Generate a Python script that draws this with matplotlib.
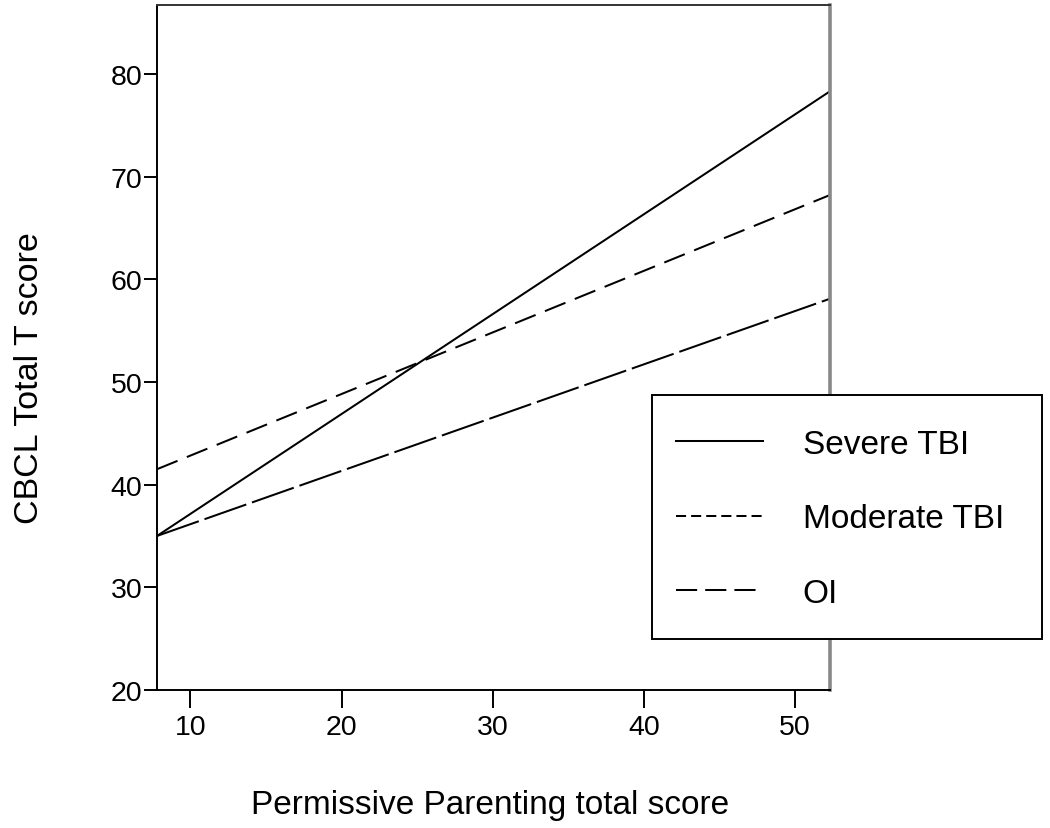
import matplotlib
matplotlib.use("Agg")
import matplotlib.pyplot as plt
from matplotlib.lines import Line2D
from matplotlib.patches import Rectangle

plt.rcParams['font.family'] = ['Liberation Sans', 'DejaVu Sans']

# regression lines: value at the left and right end of the x range
x_ends = [7.8, 52.3]
severe = [35.0, 78.3]
moderate = [41.5, 68.2]
oi = [35.0, 58.1]

groups = ["Severe TBI", "Moderate TBI", "OI"]
x_ticks = [10, 20, 30, 40, 50]
y_ticks = [20, 30, 40, 50, 60, 70, 80]

W, H = 1050, 829
fig = plt.figure(figsize=(W / 100, H / 100), dpi=100)
ax = fig.add_axes([157 / W, 1 - 691 / H, (830 - 157) / W, (691 - 5.5) / H])

lw = 1.45
ax.plot(x_ends, severe, color='black', lw=lw, solid_capstyle='butt')
ax.plot(x_ends, moderate, color='black', lw=lw, dashes=(11, 5))
ax.plot(x_ends, oi, color='black', lw=lw, dashes=(22, 3))

ax.set_xlim(x_ends[0], x_ends[1])
ax.set_ylim(20, 86.75)
ax.set_xticks(x_ticks)
ax.set_yticks(y_ticks)
ax.tick_params(axis='both', width=1.4, labelsize=20.5, color='black')
ax.tick_params(axis='y', length=9.5, pad=1)
ax.tick_params(axis='x', length=13, pad=4)

for side in ['left', 'bottom', 'top']:
    ax.spines[side].set_linewidth(1.4)
    ax.spines[side].set_color('black')
ax.spines['top'].set_color('#333333')
ax.spines['right'].set_color('#888888')
ax.spines['right'].set_linewidth(2.6)

fig.text(30 / W, 1 - 378 / H, "CBCL Total T score", rotation=90,
         ha='center', va='center', fontsize=24.5)
fig.text(490 / W, 1 - 806 / H, "Permissive Parenting total score",
         ha='center', va='center', fontsize=24)

# legend box drawn separately so its size can follow the reference
fig.patches.append(Rectangle((652 / W, 1 - 640 / H), (1042 - 652) / W,
                             (640 - 396) / H, transform=fig.transFigure,
                             facecolor='white', edgecolor='black', lw=1.4,
                             zorder=5))

# legend handles use the shorter dash patterns shown in the key
handles = [
    Line2D([], [], color='black', lw=lw),
    Line2D([], [], color='black', lw=lw, dashes=(5, 2.5)),
    Line2D([], [], color='black', lw=lw, dashes=(10.5, 4)),
]
leg = fig.legend(handles, groups, loc='center',
                 bbox_to_anchor=(840 / W, 1 - 520 / H),
                 fontsize=24, frameon=False,
                 handlelength=2.6, handletextpad=1.2, labelspacing=1.3,
                 borderpad=0, borderaxespad=0)
leg.set_zorder(6)

fig.savefig("out.png", dpi=100)
